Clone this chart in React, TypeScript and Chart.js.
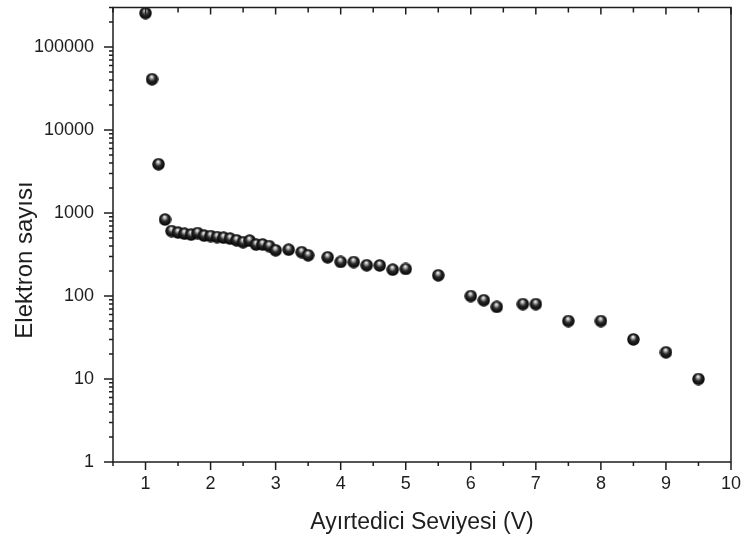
import React, { useEffect, useRef } from "react";
import { Chart, registerables } from "chart.js";

Chart.register(...registerables);

const voltages = [
  1.0, 1.1, 1.2, 1.3, 1.4, 1.5, 1.6, 1.7, 1.8, 1.9, 2.0, 2.1, 2.2, 2.3, 2.4, 2.5, 2.6, 2.7, 2.8, 2.9,
  3.0, 3.2, 3.4, 3.5, 3.8, 4.0, 4.2, 4.4, 4.6, 4.8, 5.0, 5.5, 6.0, 6.2, 6.4, 6.8, 7.0, 7.5, 8.0, 8.5,
  9.0, 9.5,
];
const electronCounts = [
  257000, 41000, 3880, 835, 607, 582, 565, 550, 574, 535, 529, 514, 505, 492, 470, 445, 466, 417, 419, 400,
  356, 362, 338, 310, 293, 258, 257, 235, 234, 208, 212, 178, 100, 89, 74, 80, 80, 50, 50, 30,
  21, 10,
];
const xTickValues = [1, 2, 3, 4, 5, 6, 7, 8, 9, 10];
const yTickValues = [1, 10, 100, 1000, 10000, 100000];
const xTitle = "Ayırtedici Seviyesi (V)";
const yTitle = "Elektron sayısı";

const FONT = "'Liberation Sans', Arial, sans-serif";
const INK = "#1e1e1e";

function makeSphere(d: number): HTMLCanvasElement {
  const c = document.createElement("canvas");
  c.width = d;
  c.height = d;
  const g = c.getContext("2d")!;
  const r = d / 2;
  const grad = g.createRadialGradient(r * 0.92, r * 0.58, 0.3, r, r, r);
  grad.addColorStop(0, "#f8f8f8");
  grad.addColorStop(0.2, "#a8a8a8");
  grad.addColorStop(0.48, "#2a2a2a");
  grad.addColorStop(1, "#000000");
  g.fillStyle = grad;
  g.beginPath();
  g.arc(r, r, r - 0.3, 0, Math.PI * 2);
  g.fill();
  return c;
}

const frameTicksPlugin = {
  id: "frameTicks",
  afterDraw(chart: any) {
    const { ctx, chartArea } = chart;
    const xs = chart.scales.x;
    const ys = chart.scales.y;
    const { left, right, top, bottom } = chartArea;
    ctx.save();
    ctx.strokeStyle = INK;
    ctx.lineWidth = 1.5;
    ctx.beginPath();
    ctx.rect(left, top, right - left, bottom - top);
    ctx.stroke();

    ctx.beginPath();
    for (let v = 0.5; v <= 10.001; v += 0.5) {
      const px = xs.getPixelForValue(v);
      const major = Math.abs(v - Math.round(v)) < 1e-6;
      ctx.moveTo(px, bottom);
      ctx.lineTo(px, bottom + (major ? 8 : 4));
      ctx.moveTo(px, top);
      ctx.lineTo(px, top + (major ? 7 : 5));
    }
    for (let d = 0; d <= 5; d++) {
      const base = Math.pow(10, d);
      for (let k = 1; k <= 9; k++) {
        const v = base * k;
        if (v > ys.max) break;
        const py = ys.getPixelForValue(v);
        const len = k === 1 ? 9 : 4;
        ctx.moveTo(left, py);
        ctx.lineTo(left - len, py);
      }
    }
    ctx.stroke();

    ctx.fillStyle = INK;
    ctx.font = `24px ${FONT}`;
    ctx.textAlign = "center";
    ctx.textBaseline = "middle";
    ctx.translate(25, 260);
    ctx.rotate(-Math.PI / 2);
    ctx.fillText(yTitle, 0, 0);
    ctx.restore();
  },
};

const zeroPad = (scale: any) => {
  scale.paddingTop = 0;
  scale.paddingBottom = 0;
  scale.paddingLeft = 0;
  scale.paddingRight = 0;
};

export default function App() {
  const ref = useRef<HTMLCanvasElement | null>(null);

  useEffect(() => {
    document.body.style.margin = "0";
    const canvas = ref.current!;
    const sphere = makeSphere(13);
    const chart = new Chart(canvas, {
      type: "scatter",
      data: {
        datasets: [
          {
            data: voltages.map((v, i) => ({ x: v, y: electronCounts[i] })),
            pointStyle: sphere as any,
            pointRadius: 6.5,
            pointHoverRadius: 6.5,
            clip: false as any,
          },
        ],
      },
      options: {
        animation: false,
        responsive: false,
        devicePixelRatio: 1,
        layout: { padding: { top: 7, right: 14, left: 0, bottom: 0 } },
        plugins: {
          legend: { display: false },
          tooltip: { enabled: false },
        },
        scales: {
          x: {
            type: "linear",
            min: 0.5,
            max: 10,
            grid: { display: false, drawTicks: false },
            border: { display: false },
            afterBuildTicks: (scale: any) => {
              scale.ticks = xTickValues.map((v) => ({ value: v }));
            },
            afterFit: (scale: any) => {
              scale.height = 79;
              zeroPad(scale);
            },
            ticks: {
              padding: 11,
              color: INK,
              font: { family: FONT, size: 18 },
              maxRotation: 0,
              callback: (v: any) => String(v),
            },
            title: {
              display: true,
              text: xTitle,
              color: INK,
              font: { family: FONT, size: 23 },
              padding: { top: 0, bottom: 5 },
            },
          },
          y: {
            type: "logarithmic",
            min: 1,
            max: 300000,
            grid: { display: false, drawTicks: false },
            border: { display: false },
            afterBuildTicks: (scale: any) => {
              scale.ticks = yTickValues.map((v) => ({ value: v }));
            },
            afterFit: (scale: any) => {
              scale.width = 113;
              zeroPad(scale);
            },
            ticks: {
              padding: 19,
              color: INK,
              font: { family: FONT, size: 18 },
              callback: (v: any) => String(v),
            },
          },
        },
      },
      plugins: [frameTicksPlugin],
    });
    return () => chart.destroy();
  }, []);

  return (
    <div style={{ width: 745, height: 541 }}>
      <canvas ref={ref} width={745} height={541} style={{ display: "block" }} />
    </div>
  );
}
